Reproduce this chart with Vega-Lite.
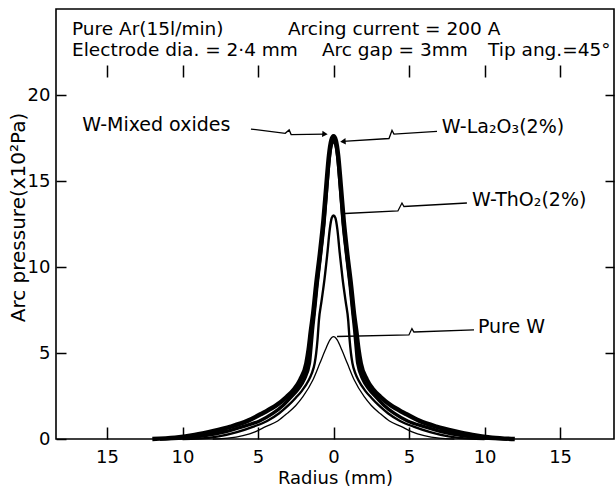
{
  "$schema": "https://vega.github.io/schema/vega-lite/v6.json",
  "autosize": {"type": "none"},
  "padding": {"left": 56, "top": 9, "right": 1, "bottom": 47},
  "width": 558,
  "height": 430,
  "config": {
    "font": "DejaVu Sans",
    "view": {"stroke": "black", "strokeWidth": 1.6},
    "axis": {"grid": false, "domain": false, "tickColor": "black", "tickWidth": 1.5, "labelColor": "black", "labelFontSize": 18, "labelFont": "DejaVu Sans", "titleColor": "black", "titleFontSize": 19, "titleFontWeight": "normal", "titleFont": "DejaVu Sans"}
  },
  "datasets": {
    "header": [
      {"t": "Pure Ar(15l/min)", "r": -17.32, "p": 23.49},
      {"t": "Arcing current = 200 A", "r": -3.02, "p": 23.49},
      {"t": "Electrode dia. = 2·4 mm", "r": -17.32, "p": 22.24},
      {"t": "Arc gap = 3mm", "r": -0.77, "p": 22.24},
      {"t": "Tip ang.=45°", "r": 10.23, "p": 22.24}
    ],
    "curves": [
      {"s": "Mixed", "r": -12, "p": 0}, {"s": "Mixed", "r": -10.5, "p": 0.08}, {"s": "Mixed", "r": -9.2, "p": 0.23}, {"s": "Mixed", "r": -8, "p": 0.45}, {"s": "Mixed", "r": -6.8, "p": 0.72}, {"s": "Mixed", "r": -5.7, "p": 1.05}, {"s": "Mixed", "r": -4.7, "p": 1.5}, {"s": "Mixed", "r": -3.8, "p": 1.95}, {"s": "Mixed", "r": -3.1, "p": 2.45}, {"s": "Mixed", "r": -2.6, "p": 2.9}, {"s": "Mixed", "r": -2.2, "p": 3.45}, {"s": "Mixed", "r": -1.8, "p": 4.4}, {"s": "Mixed", "r": -1.65, "p": 5.2}, {"s": "Mixed", "r": -1.5, "p": 6.3}, {"s": "Mixed", "r": -1.35, "p": 7.3}, {"s": "Mixed", "r": -1.16, "p": 8.9}, {"s": "Mixed", "r": -0.9, "p": 10.8}, {"s": "Mixed", "r": -0.67, "p": 12.7}, {"s": "Mixed", "r": -0.48, "p": 14.7}, {"s": "Mixed", "r": -0.3, "p": 16.5}, {"s": "Mixed", "r": -0.15, "p": 17.35}, {"s": "Mixed", "r": 0, "p": 17.6},
      {"s": "Mixed", "r": 0.15, "p": 17.35}, {"s": "Mixed", "r": 0.3, "p": 16.5}, {"s": "Mixed", "r": 0.48, "p": 14.7}, {"s": "Mixed", "r": 0.67, "p": 12.7}, {"s": "Mixed", "r": 0.9, "p": 10.8}, {"s": "Mixed", "r": 1.16, "p": 8.9}, {"s": "Mixed", "r": 1.35, "p": 7.3}, {"s": "Mixed", "r": 1.5, "p": 6.3}, {"s": "Mixed", "r": 1.65, "p": 5.2}, {"s": "Mixed", "r": 1.8, "p": 4.4}, {"s": "Mixed", "r": 2.2, "p": 3.45}, {"s": "Mixed", "r": 2.6, "p": 2.9}, {"s": "Mixed", "r": 3.1, "p": 2.45}, {"s": "Mixed", "r": 3.8, "p": 1.95}, {"s": "Mixed", "r": 4.7, "p": 1.5}, {"s": "Mixed", "r": 5.7, "p": 1.05}, {"s": "Mixed", "r": 6.8, "p": 0.72}, {"s": "Mixed", "r": 8, "p": 0.45}, {"s": "Mixed", "r": 9.2, "p": 0.23}, {"s": "Mixed", "r": 10.5, "p": 0.08}, {"s": "Mixed", "r": 12, "p": 0},
      {"s": "La2O3", "r": -11.5, "p": 0}, {"s": "La2O3", "r": -10, "p": 0.05}, {"s": "La2O3", "r": -8.5, "p": 0.2}, {"s": "La2O3", "r": -7.2, "p": 0.42}, {"s": "La2O3", "r": -6, "p": 0.72}, {"s": "La2O3", "r": -4.9, "p": 1.05}, {"s": "La2O3", "r": -4, "p": 1.5}, {"s": "La2O3", "r": -3.35, "p": 1.95}, {"s": "La2O3", "r": -2.8, "p": 2.45}, {"s": "La2O3", "r": -2.35, "p": 2.9}, {"s": "La2O3", "r": -1.95, "p": 3.45}, {"s": "La2O3", "r": -1.6, "p": 4.4}, {"s": "La2O3", "r": -1.5, "p": 5.3}, {"s": "La2O3", "r": -1.4, "p": 6.3}, {"s": "La2O3", "r": -1.28, "p": 7.3}, {"s": "La2O3", "r": -1.1, "p": 8.9}, {"s": "La2O3", "r": -0.85, "p": 10.8}, {"s": "La2O3", "r": -0.63, "p": 12.6}, {"s": "La2O3", "r": -0.46, "p": 14.5}, {"s": "La2O3", "r": -0.3, "p": 16.2}, {"s": "La2O3", "r": -0.15, "p": 17.1}, {"s": "La2O3", "r": 0, "p": 17.35},
      {"s": "La2O3", "r": 0.15, "p": 17.1}, {"s": "La2O3", "r": 0.3, "p": 16.2}, {"s": "La2O3", "r": 0.46, "p": 14.5}, {"s": "La2O3", "r": 0.63, "p": 12.6}, {"s": "La2O3", "r": 0.85, "p": 10.8}, {"s": "La2O3", "r": 1.1, "p": 8.9}, {"s": "La2O3", "r": 1.28, "p": 7.3}, {"s": "La2O3", "r": 1.4, "p": 6.3}, {"s": "La2O3", "r": 1.5, "p": 5.3}, {"s": "La2O3", "r": 1.6, "p": 4.4}, {"s": "La2O3", "r": 1.95, "p": 3.45}, {"s": "La2O3", "r": 2.35, "p": 2.9}, {"s": "La2O3", "r": 2.8, "p": 2.45}, {"s": "La2O3", "r": 3.35, "p": 1.95}, {"s": "La2O3", "r": 4, "p": 1.5}, {"s": "La2O3", "r": 4.9, "p": 1.05}, {"s": "La2O3", "r": 6, "p": 0.72}, {"s": "La2O3", "r": 7.2, "p": 0.42}, {"s": "La2O3", "r": 8.5, "p": 0.2}, {"s": "La2O3", "r": 10, "p": 0.05}, {"s": "La2O3", "r": 11.5, "p": 0},
      {"s": "ThO2", "r": -10, "p": 0}, {"s": "ThO2", "r": -9, "p": 0.02}, {"s": "ThO2", "r": -7.6, "p": 0.15}, {"s": "ThO2", "r": -6.4, "p": 0.4}, {"s": "ThO2", "r": -5.3, "p": 0.72}, {"s": "ThO2", "r": -4.4, "p": 1.05}, {"s": "ThO2", "r": -3.6, "p": 1.5}, {"s": "ThO2", "r": -3, "p": 1.95}, {"s": "ThO2", "r": -2.5, "p": 2.4}, {"s": "ThO2", "r": -2.1, "p": 2.8}, {"s": "ThO2", "r": -1.64, "p": 3.43}, {"s": "ThO2", "r": -1.45, "p": 3.8}, {"s": "ThO2", "r": -1.25, "p": 4.4}, {"s": "ThO2", "r": -1.15, "p": 5.0}, {"s": "ThO2", "r": -1.06, "p": 5.8}, {"s": "ThO2", "r": -0.97, "p": 6.9}, {"s": "ThO2", "r": -0.8, "p": 8.0}, {"s": "ThO2", "r": -0.6, "p": 9.3}, {"s": "ThO2", "r": -0.41, "p": 10.8}, {"s": "ThO2", "r": -0.25, "p": 12.2}, {"s": "ThO2", "r": -0.12, "p": 12.85}, {"s": "ThO2", "r": 0, "p": 13.0},
      {"s": "ThO2", "r": 0.12, "p": 12.85}, {"s": "ThO2", "r": 0.25, "p": 12.2}, {"s": "ThO2", "r": 0.41, "p": 10.8}, {"s": "ThO2", "r": 0.6, "p": 9.3}, {"s": "ThO2", "r": 0.8, "p": 8.0}, {"s": "ThO2", "r": 0.97, "p": 6.9}, {"s": "ThO2", "r": 1.06, "p": 5.8}, {"s": "ThO2", "r": 1.15, "p": 5.0}, {"s": "ThO2", "r": 1.25, "p": 4.4}, {"s": "ThO2", "r": 1.45, "p": 3.8}, {"s": "ThO2", "r": 1.64, "p": 3.43}, {"s": "ThO2", "r": 2.1, "p": 2.8}, {"s": "ThO2", "r": 2.5, "p": 2.4}, {"s": "ThO2", "r": 3, "p": 1.95}, {"s": "ThO2", "r": 3.6, "p": 1.5}, {"s": "ThO2", "r": 4.4, "p": 1.05}, {"s": "ThO2", "r": 5.3, "p": 0.72}, {"s": "ThO2", "r": 6.4, "p": 0.4}, {"s": "ThO2", "r": 7.6, "p": 0.15}, {"s": "ThO2", "r": 9, "p": 0.02}, {"s": "ThO2", "r": 10, "p": 0},
      {"s": "PureW", "r": -8, "p": 0}, {"s": "PureW", "r": -7, "p": 0.05}, {"s": "PureW", "r": -6, "p": 0.2}, {"s": "PureW", "r": -5.2, "p": 0.42}, {"s": "PureW", "r": -4.5, "p": 0.72}, {"s": "PureW", "r": -3.7, "p": 1.05}, {"s": "PureW", "r": -3.07, "p": 1.49}, {"s": "PureW", "r": -2.5, "p": 1.95}, {"s": "PureW", "r": -2.03, "p": 2.46}, {"s": "PureW", "r": -1.37, "p": 3.43}, {"s": "PureW", "r": -0.91, "p": 4.4}, {"s": "PureW", "r": -0.55, "p": 5.17}, {"s": "PureW", "r": -0.25, "p": 5.75}, {"s": "PureW", "r": -0.1, "p": 5.92}, {"s": "PureW", "r": 0, "p": 5.95},
      {"s": "PureW", "r": 0.1, "p": 5.92}, {"s": "PureW", "r": 0.25, "p": 5.75}, {"s": "PureW", "r": 0.55, "p": 5.17}, {"s": "PureW", "r": 0.91, "p": 4.4}, {"s": "PureW", "r": 1.37, "p": 3.43}, {"s": "PureW", "r": 2.03, "p": 2.46}, {"s": "PureW", "r": 2.5, "p": 1.95}, {"s": "PureW", "r": 3.07, "p": 1.49}, {"s": "PureW", "r": 3.7, "p": 1.05}, {"s": "PureW", "r": 4.5, "p": 0.72}, {"s": "PureW", "r": 5.2, "p": 0.42}, {"s": "PureW", "r": 6, "p": 0.2}, {"s": "PureW", "r": 7, "p": 0.05}, {"s": "PureW", "r": 8, "p": 0}
    ],
    "leaders": [
      {"lab": "Mixed", "i": 0, "r": -5.47, "p": 18.02}, {"lab": "Mixed", "i": 1, "r": -3.2, "p": 17.77}, {"lab": "Mixed", "i": 2, "r": -2.94, "p": 17.97}, {"lab": "Mixed", "i": 3, "r": -2.81, "p": 17.7}, {"lab": "Mixed", "i": 4, "r": -0.57, "p": 17.73},
      {"lab": "La2O3", "i": 0, "r": 6.85, "p": 17.88}, {"lab": "La2O3", "i": 1, "r": 4.0, "p": 17.73}, {"lab": "La2O3", "i": 2, "r": 3.87, "p": 17.94}, {"lab": "La2O3", "i": 3, "r": 3.67, "p": 17.47}, {"lab": "La2O3", "i": 4, "r": 0.62, "p": 17.3},
      {"lab": "ThO2", "i": 0, "r": 8.83, "p": 13.72}, {"lab": "ThO2", "i": 1, "r": 4.66, "p": 13.52}, {"lab": "ThO2", "i": 2, "r": 4.53, "p": 13.72}, {"lab": "ThO2", "i": 3, "r": 4.26, "p": 13.26}, {"lab": "ThO2", "i": 4, "r": 0.75, "p": 13.11},
      {"lab": "PureW", "i": 0, "r": 9.3, "p": 6.34}, {"lab": "PureW", "i": 1, "r": 5.32, "p": 6.22}, {"lab": "PureW", "i": 2, "r": 5.19, "p": 6.42}, {"lab": "PureW", "i": 3, "r": 4.99, "p": 6.05}, {"lab": "PureW", "i": 4, "r": 0.23, "p": 5.96}
    ],
    "labels": [
      {"t": "W-Mixed oxides", "r": -16.65, "p": 18.26},
      {"t": "W-La₂O₃(2%)", "r": 7.17, "p": 18.14},
      {"t": "W-ThO₂(2%)", "r": 9.17, "p": 13.9},
      {"t": "Pure W", "r": 9.56, "p": 6.51}
    ]
  },
  "resolve": {"axis": {"x": "independent", "y": "independent"}},
  "layer": [
    {
      "data": {"name": "curves"},
      "mark": {"type": "line", "interpolate": "monotone", "color": "black"},
      "encoding": {
        "x": {"field": "r", "type": "quantitative", "scale": {"domain": [-18.38, 18.57], "nice": false, "zero": false},
          "axis": {"orient": "bottom", "values": [-15, -10, -5, 0, 5, 10, 15], "labelExpr": "abs(datum.value)", "title": "Radius (mm)", "titleFontSize": 18, "tickSize": -12, "labelPadding": 21, "titleBaseline": "alphabetic", "titleY": 44}},
        "y": {"field": "p", "type": "quantitative", "scale": {"domain": [0, 25.0], "nice": false},
          "axis": {"orient": "left", "values": [0, 5, 10, 15, 20], "title": "Arc pressure(x10²Pa)", "titleFontSize": 20, "tickSize": -10, "labelPadding": 16, "titleX": -38, "titleY": 208, "titleAngle": -90, "titleBaseline": "middle", "titleAlign": "center"}},
        "detail": {"field": "s"},
        "strokeWidth": {"field": "s", "type": "nominal", "scale": {"domain": ["Mixed", "La2O3", "ThO2", "PureW"], "range": [4.5, 1.3, 1.3, 1.3]}, "legend": null}
      }
    },
    {
      "mark": {"type": "rule", "color": "black", "strokeWidth": 1.6},
      "encoding": {"y": {"datum": 21.74, "type": "quantitative", "axis": null}}
    },
    {
      "data": {"name": "leaders"},
      "mark": {"type": "line", "color": "black", "strokeWidth": 1.3},
      "encoding": {
        "x": {"field": "r", "type": "quantitative", "axis": null},
        "y": {"field": "p", "type": "quantitative", "axis": null},
        "detail": {"field": "lab"},
        "order": {"field": "i", "type": "quantitative"}
      }
    },
    {
      "data": {"name": "leaders"},
      "transform": [{"filter": "datum.lab == 'Mixed' && datum.i == 4"}],
      "mark": {"type": "point", "shape": "triangle-right", "filled": true, "color": "black", "size": 40, "opacity": 1, "angle": 4},
      "encoding": {
        "x": {"field": "r", "type": "quantitative", "axis": null},
        "y": {"field": "p", "type": "quantitative", "axis": null}
      }
    },
    {
      "data": {"name": "leaders"},
      "transform": [{"filter": "datum.lab == 'La2O3' && datum.i == 4"}],
      "mark": {"type": "point", "shape": "triangle-left", "filled": true, "color": "black", "size": 40, "opacity": 1, "angle": -4},
      "encoding": {
        "x": {"field": "r", "type": "quantitative", "axis": null},
        "y": {"field": "p", "type": "quantitative", "axis": null}
      }
    },
    {
      "data": {"name": "header"},
      "mark": {"type": "text", "align": "left", "baseline": "alphabetic", "fontSize": 18.5, "color": "black"},
      "encoding": {
        "x": {"field": "r", "type": "quantitative", "axis": null},
        "y": {"field": "p", "type": "quantitative", "axis": null},
        "text": {"field": "t"}
      }
    },
    {
      "data": {"name": "labels"},
      "mark": {"type": "text", "align": "left", "baseline": "middle", "fontSize": 19, "color": "black"},
      "encoding": {
        "x": {"field": "r", "type": "quantitative",
          "axis": {"orient": "top", "values": [-15, -10, -5, 0, 5, 10, 15], "labels": false, "title": null, "tickSize": -12, "offset": -56}},
        "y": {"field": "p", "type": "quantitative",
          "axis": {"orient": "right", "values": [5, 10, 15, 20], "labels": false, "title": null, "tickSize": -9}},
        "text": {"field": "t"}
      }
    }
  ]
}
